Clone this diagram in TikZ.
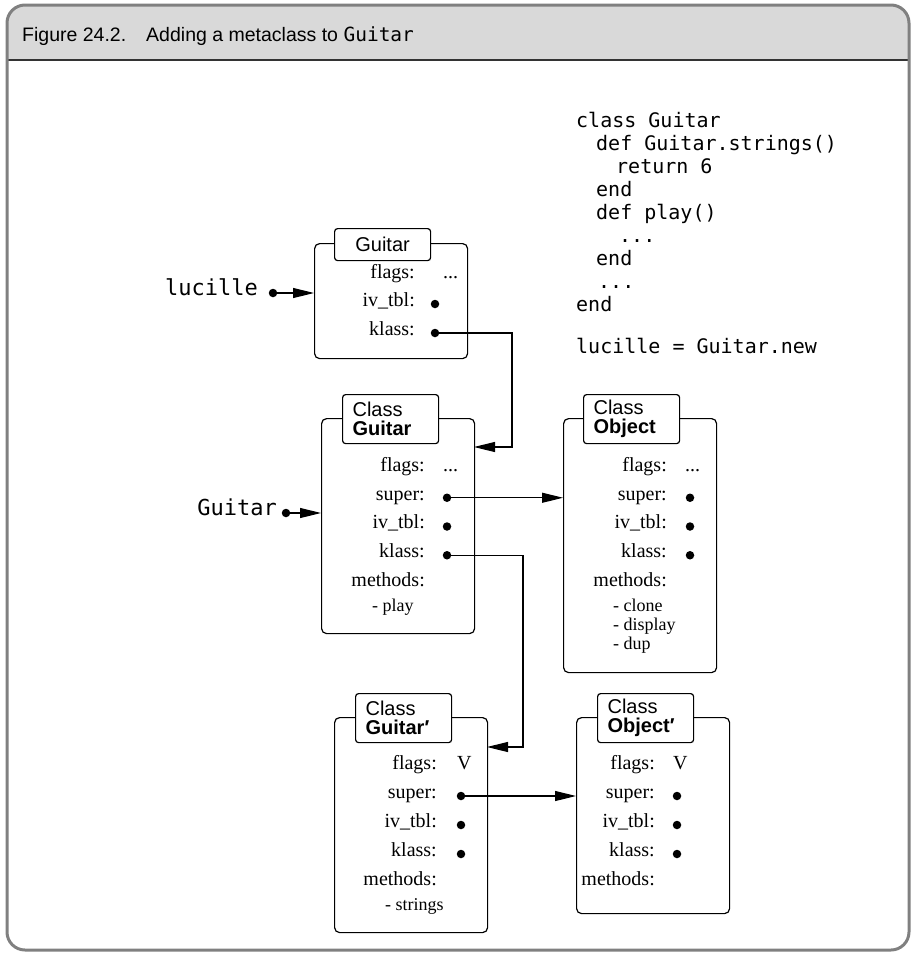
\documentclass[tikz,border=0pt]{standalone}
\usepackage{fontspec}
\setmainfont{Liberation Serif}
\setsansfont{Liberation Sans}
\setmonofont{DejaVu Sans Mono}
\usetikzlibrary{arrows.meta}

\definecolor{framegray}{gray}{0.5}
\definecolor{headgray}{gray}{0.85}

\tikzset{
  box/.style={draw, rounded corners=5pt, line width=1.2pt, anchor=north west, inner sep=0},
  tab/.style={draw, fill=white, rounded corners=3pt, line width=1.2pt, anchor=north west,
    inner xsep=10pt, inner ysep=0, text width=76pt, minimum height=#1,
    font=\sffamily\fontsize{20pt}{19pt}\selectfont},
  fld/.style={anchor=mid east, inner sep=0, font=\fontsize{20pt}{24pt}\selectfont},
  val/.style={anchor=mid west, inner sep=0, font=\fontsize{20pt}{24pt}\selectfont},
  meth/.style={anchor=mid west, inner sep=0, font=\fontsize{18pt}{19pt}\selectfont},
  dot/.style={circle, fill, minimum size=8.5pt, inner sep=0},
  var/.style={anchor=mid east, inner sep=0, font=\ttfamily\fontsize{22pt}{24pt}\selectfont},
  ptr/.style={line width=1.1pt, -{Triangle[length=21pt,width=10pt]}}
}

\begin{document}
\begin{tikzpicture}[x=1pt,y=-1pt]
\useasboundingbox (0,0) rectangle (914,954);

% frame and caption
\begin{scope}
\clip[rounded corners=18pt] (7,5) rectangle (909,950);
\fill[headgray] (7,5) rectangle (909,60);
\end{scope}
\draw[line width=1.2pt, black!80] (7,60) -- (909,60);
\draw[framegray, line width=3pt, rounded corners=18pt] (7,5) rectangle (909,950);
\node[anchor=base west, inner sep=0, font=\sffamily\fontsize{19.5pt}{21pt}\selectfont] (title) at (22,41)
  {Figure 24.2.\hspace{20pt}Adding a metaclass to {\ttfamily Guitar}};

% ruby source
\node[anchor=north west, inner sep=0, align=left, font=\ttfamily\fontsize{20pt}{23pt}\selectfont] (code) at (576,112) {%
class Guitar\\
\hspace*{20pt}def Guitar.strings()\\
\hspace*{40pt}return 6\\
\hspace*{20pt}end\\
\hspace*{20pt}def play()\\
\hspace*{43pt}...\\
\hspace*{20pt}end\\
\hspace*{22pt}...\\
end\\[19pt]
lucille = Guitar.new};

% the Guitar instance
\node[box, minimum width=153pt, minimum height=115pt] (inst) at (314,243) {};
\node[tab=32pt, align=center] (insttab) at (334,228) {Guitar};
\foreach \f/\y in {flags:/276, iv\_tbl:/304, klass:/333}
  \node[fld] at (415,\y) {\f};
\node[val] (iflagsv) at (443,276) {...};
\node[dot] (iivtblp) at (435,304) {};
\node[dot] (iklassp) at (435,333) {};

\node[var] (lucille) at (258,293) {lucille};
\node[dot] (lucdot) at (273,293) {};

% class Guitar
\node[box, minimum width=153pt, minimum height=215pt] (cls) at (321,418) {};
\node[tab=49pt, align=left] (clstab) at (342,394) {Class\\\textbf{Guitar}};
\foreach \f [count=\i from 0] in {flags:, super:, iv\_tbl:, klass:, methods:}
  \node[fld] at (425,469+28.75*\i) {\f};
\node[val] (cflagsv) at (443,469) {...};
\node[dot] (csuperp) at (447,497.75) {};
\node[dot] (civtblp) at (447,526.5) {};
\node[dot] (cklassp) at (447,555.25) {};
\node[meth] (cplay) at (372,609) {- play};

\node[var] (guitar) at (277,513) {Guitar};
\node[dot] (gdot) at (286,513) {};

% class Object
\node[box, minimum width=153pt, minimum height=254pt] (obj) at (563,418) {};
\node[tab=49pt, align=left] (objtab) at (583,394) {Class\\\textbf{Object}};
\foreach \f [count=\i from 0] in {flags:, super:, iv\_tbl:, klass:, methods:}
  \node[fld] at (667,469+28.75*\i) {\f};
\node[val] (oflagsv) at (685,469) {...};
\node[dot] (osuperp) at (690,497.75) {};
\node[dot] (oivtblp) at (690,526.5) {};
\node[dot] (oklassp) at (690,555.25) {};
\foreach \m [count=\i from 0] in {clone, display, dup}
  \node[meth] at (613,609+19*\i) {- \m};

% metaclass Guitar'
\node[box, minimum width=153pt, minimum height=215pt] (meta) at (334,717) {};
\node[tab=49pt, align=left] (metatab) at (355,693) {Class\\\textbf{Guitar′}};
\foreach \f [count=\i from 0] in {flags:, super:, iv\_tbl:, klass:, methods:}
  \node[fld] at (437,767+29*\i) {\f};
\node[val] (mflagsv) at (457,767) {V};
\node[dot] (msuperp) at (461,796) {};
\node[dot] (mivtblp) at (461,825) {};
\node[dot] (mklassp) at (461,854) {};
\node[meth] (mstrings) at (385,908) {- strings};

% metaclass Object'
\node[box, minimum width=153pt, minimum height=196pt] (metaobj) at (576,717) {};
\node[tab=49pt, align=left] (metaobjtab) at (597,693) {Class\\\textbf{Object′}};
\foreach \f [count=\i from 0] in {flags:, super:, iv\_tbl:, klass:, methods:}
  \node[fld] at (655,767+29*\i) {\f};
\node[val] (moflagsv) at (673,767) {V};
\node[dot] (mosuperp) at (677,796) {};
\node[dot] (moivtblp) at (677,825) {};
\node[dot] (moklassp) at (677,854) {};

% pointers
\coordinate (clsin) at (474,447);
\coordinate (metain) at (487,747);
\draw[ptr] (lucdot.center) -- (lucdot -| inst.west);
\draw[ptr] (iklassp.center) -| ([xshift=38pt]clsin) -- (clsin);
\draw[ptr] (gdot.center) -- (gdot -| cls.west);
\draw[ptr] (csuperp.center) -- (csuperp -| obj.west);
\draw[ptr] (cklassp.center) -| ([xshift=36pt]metain) -- (metain);
\draw[ptr] (msuperp.center) -- (msuperp -| metaobj.west);
\end{tikzpicture}
\end{document}
